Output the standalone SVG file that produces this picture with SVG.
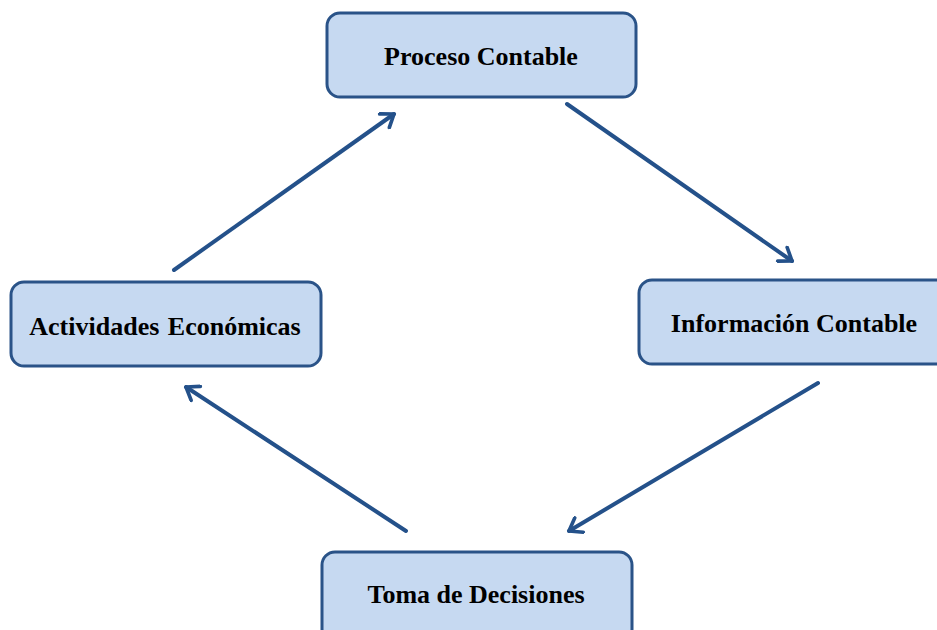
<svg xmlns="http://www.w3.org/2000/svg" width="937" height="630" viewBox="0 0 937 630">
<defs>
<style>
.box{fill:#c6d9f1;stroke:#2a5388;stroke-width:3}
.lbl{font-family:"Liberation Serif","Times New Roman",serif;font-weight:bold;font-size:26px;fill:#000;text-anchor:middle}
.con{stroke:#24518a;stroke-width:4;fill:none;stroke-linecap:round}
</style>
<marker id="ah" viewBox="0 0 12 12" refX="10" refY="6" markerWidth="5" markerHeight="5" markerUnits="strokeWidth" orient="auto">
<path d="M3,1 L10,6 L3,11" fill="none" stroke="#24518a" stroke-width="2.2" stroke-linecap="round" stroke-linejoin="round"/>
</marker>
</defs>
<rect width="937" height="630" fill="#fff"/>
<g id="connectors">
<line class="con" x1="174" y1="270" x2="394" y2="114" marker-end="url(#ah)"/>
<line class="con" x1="567" y1="104" x2="792" y2="261" marker-end="url(#ah)"/>
<line class="con" x1="818" y1="383" x2="569" y2="531" marker-end="url(#ah)"/>
<line class="con" x1="406" y1="531" x2="186" y2="387" marker-end="url(#ah)"/>
</g>
<g id="proceso">
<rect class="box" x="327" y="13" width="309" height="84" rx="13"/>
<text class="lbl" x="481" y="65">Proceso Contable</text>
</g>
<g id="informacion">
<rect class="box" x="639" y="280" width="310" height="84" rx="13"/>
<text class="lbl" x="794" y="332">Información Contable</text>
</g>
<g id="actividades">
<rect class="box" x="11" y="282" width="310" height="84" rx="13"/>
<text class="lbl" x="165" y="335" word-spacing="2">Actividades Económicas</text>
</g>
<g id="toma">
<rect class="box" x="322" y="552" width="310" height="90" rx="13"/>
<text class="lbl" x="476" y="603">Toma de Decisiones</text>
</g>
</svg>
